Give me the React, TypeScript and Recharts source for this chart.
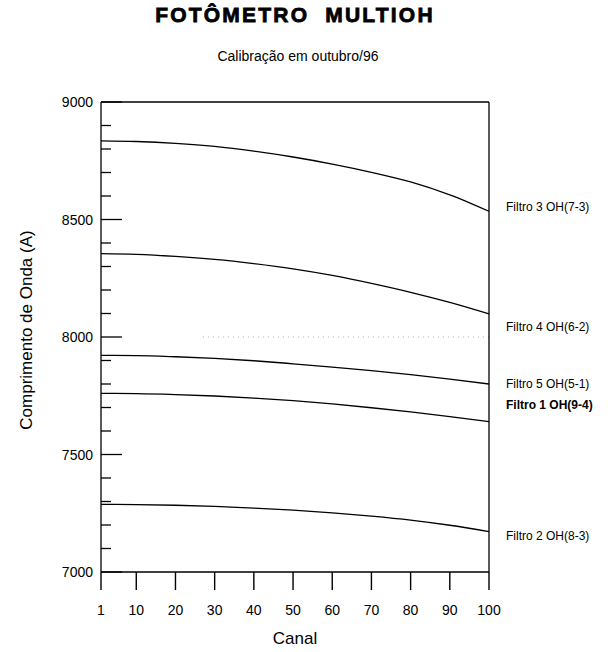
import { Line, LineChart, ReferenceLine, XAxis, YAxis } from "recharts";

const canais = [1, 10, 20, 30, 40, 50, 60, 70, 80, 90, 100];
const filtro3 = [8835, 8832, 8824, 8811, 8791, 8766, 8736, 8701, 8660, 8605, 8535];
const filtro4 = [8355, 8352, 8343, 8330, 8312, 8290, 8262, 8228, 8190, 8147, 8098];
const filtro5 = [7922, 7921, 7916, 7909, 7899, 7886, 7872, 7857, 7840, 7821, 7800];
const filtro1 = [7760, 7759, 7755, 7749, 7740, 7729, 7715, 7699, 7681, 7661, 7640];
const filtro2 = [7288, 7287, 7284, 7279, 7272, 7263, 7252, 7238, 7221, 7199, 7172];

const xTicks = [1, 10, 20, 30, 40, 50, 60, 70, 80, 90, 100];
const yTicks = Array.from({ length: 21 }, (_, i) => 7000 + i * 100);

const series = [
  { key: "f3", name: "Filtro 3 OH(7-3)", values: filtro3, dy: -4, bold: false },
  { key: "f4", name: "Filtro 4 OH(6-2)", values: filtro4, dy: 13, bold: false },
  { key: "f5", name: "Filtro 5 OH(5-1)", values: filtro5, dy: 0, bold: false },
  { key: "f1", name: "Filtro 1 OH(9-4)", values: filtro1, dy: -17, bold: true },
  { key: "f2", name: "Filtro 2 OH(8-3)", values: filtro2, dy: 4, bold: false },
];

const data = canais.map((c, i) => {
  const row: Record<string, number> = { canal: c };
  series.forEach((s) => (row[s.key] = s.values[i]));
  return row;
});

const font = "'Liberation Sans', Arial, sans-serif";

// inward ticks on the left axis, long every 500
function YTick(props: any) {
  const { x, y, payload } = props;
  const v = payload.value as number;
  const major = v % 500 === 0;
  const ax = x + 8;
  return (
    <g>
      <line x1={ax} x2={ax + (major ? 21 : 10)} y1={y} y2={y} stroke="#000" strokeWidth={1.3} />
      {major && (
        <text x={x} y={y} dy={5} textAnchor="end" fontSize={14} fontFamily={font} fill="#000">
          {v}
        </text>
      )}
    </g>
  );
}

// tickSize 0, tickMargin 0: y is the axis line
function XTick(props: any) {
  const { x, y, payload } = props;
  return (
    <g>
      <rect x={x - 0.7} y={y} width={1.4} height={18} fill="#000" />
      <text x={x} y={y + 43} textAnchor="middle" fontSize={14} fontFamily={font} fill="#000">
        {payload.value}
      </text>
    </g>
  );
}

function endLabel(name: string, dy: number, bold: boolean) {
  return (p: any) => {
    if (p.index !== canais.length - 1) return <g key={p.index} />;
    return (
      <text
        key={p.index}
        x={p.cx + 17}
        y={p.cy + dy}
        dy={4}
        fontSize={12}
        fontFamily={font}
        fontWeight={bold ? 700 : 400}
        fill="#000"
      >
        {name}
      </text>
    );
  };
}

export default function App() {
  return (
    <div style={{ position: "absolute", left: 0, top: 0, width: 608, height: 652, background: "#fff", fontFamily: font }}>
      <LineChart
        width={608}
        height={652}
        data={data}
        margin={{ top: 102, right: 119, left: 41, bottom: 6 }}
      >
        <XAxis
          dataKey="canal"
          type="number"
          domain={[1, 100]}
          ticks={xTicks}
          interval={0}
          height={74}
          tickSize={0}
          tickMargin={0}
          tickLine={false}
          axisLine={{ stroke: "#000", strokeWidth: 1.3 }}
          tick={<XTick />}
          label={{ value: "Canal", position: "insideBottom", offset: 2, fill: "#000", fontSize: 17, fontFamily: font }}
        />
        <YAxis
          type="number"
          domain={[7000, 9000]}
          ticks={yTicks}
          interval={0}
          width={60}
          tickSize={0}
          tickMargin={8}
          tickLine={false}
          axisLine={{ stroke: "#000", strokeWidth: 1.3 }}
          tick={<YTick />}
        />
        <ReferenceLine
          segment={[
            { x: 27, y: 8000 },
            { x: 100, y: 8000 },
          ]}
          stroke="#aaa"
          strokeDasharray="1 4"
        />
        <ReferenceLine y={9000} stroke="#000" strokeWidth={1.3} />
        <ReferenceLine x={100} stroke="#000" strokeWidth={1.3} />
        {series.map((s) => (
          <Line
            key={s.key}
            dataKey={s.key}
            type="monotone"
            stroke="#000"
            strokeWidth={1.3}
            dot={endLabel(s.name, s.dy, s.bold)}
            activeDot={false}
            isAnimationActive={false}
          />
        ))}
      </LineChart>
      <div
        style={{
          position: "absolute",
          left: 0,
          width: 590,
          top: 3,
          textAlign: "center",
          fontSize: 21,
          fontWeight: 900,
          letterSpacing: 2.2,
          WebkitTextStroke: "0.8px #000",
        }}
      >
        FOTÔMETRO&nbsp;&nbsp;MULTIOH
      </div>
      <div style={{ position: "absolute", left: 0, width: 596, top: 48, textAlign: "center", fontSize: 14 }}>
        Calibração em outubro/96
      </div>
      <div
        style={{
          position: "absolute",
          left: 27,
          top: 330,
          fontSize: 17,
          whiteSpace: "nowrap",
          transform: "translate(-50%, -50%) rotate(-90deg)",
        }}
      >
        Comprimento de Onda (A)
      </div>
    </div>
  );
}
